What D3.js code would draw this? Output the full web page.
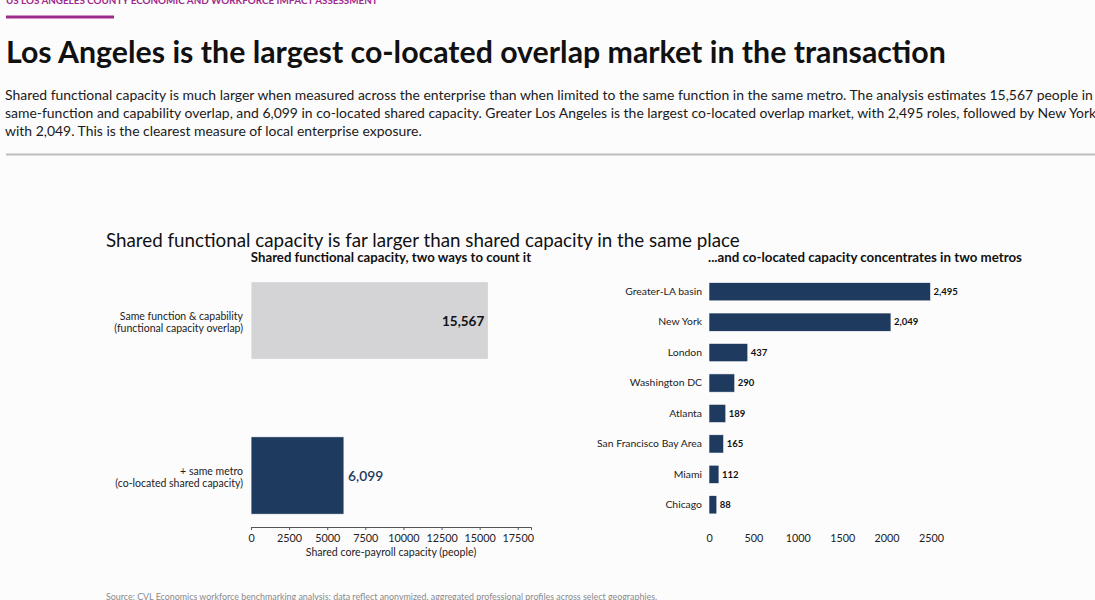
<!DOCTYPE html>
<html>
<head>
<meta charset="utf-8">
<script src="https://cdn.jsdelivr.net/npm/d3@7"></script>
<style>
  body { margin: 0; background: #fdfcfd; font-family: Lato, "Open Sans", sans-serif; }
  svg text { font-family: Lato, "Open Sans", sans-serif; }
</style>
</head>
<body>
<svg id="chart" width="1095" height="600"></svg>
<script>
// header text
const kicker = "US LOS ANGELES COUNTY ECONOMIC AND WORKFORCE IMPACT ASSESSMENT";
const headline = "Los Angeles is the largest co-located overlap market in the transaction";
const deckLines = [
  "Shared functional capacity is much larger when measured across the enterprise than when limited to the same function in the same metro. The analysis estimates 15,567 people in",
  "same-function and capability overlap, and 6,099 in co-located shared capacity. Greater Los Angeles is the largest co-located overlap market, with 2,495 roles, followed by New York",
  "with 2,049. This is the clearest measure of local enterprise exposure."
];
const chartTitle = "Shared functional capacity is far larger than shared capacity in the same place";
const leftTitle = "Shared functional capacity, two ways to count it";
const rightTitle = "...and co-located capacity concentrates in two metros";
const leftAxisLabel = "Shared core-payroll capacity (people)";
const sourceNote = "Source: CVL Economics workforce benchmarking analysis; data reflect anonymized, aggregated professional profiles across select geographies.";

// left panel data
const overlapLabels = [
  ["Same function & capability", "(functional capacity overlap)"],
  ["+ same metro", "(co-located shared capacity)"]
];
const overlapValues = [15567, 6099];
const overlapColors = ["#d4d3d6", "#1e3a5f"];
const leftTicks = [0, 2500, 5000, 7500, 10000, 12500, 15000, 17500];

// right panel data
const metros = ["Greater-LA basin", "New York", "London", "Washington DC", "Atlanta", "San Francisco Bay Area", "Miami", "Chicago"];
const metroValues = [2495, 2049, 437, 290, 189, 165, 112, 88];
const rightTicks = [0, 500, 1000, 1500, 2000, 2500];

const navy = "#1e3a5f";
const magenta = "#9c2a8c";
const fmt = d3.format(",");

const svg = d3.select("#chart");

// header
svg.append("text")
  .attr("x", 6).attr("y", 4)
  .attr("font-size", 9.85).attr("font-weight", 700)
  .attr("fill", magenta)
  .text(kicker);
svg.append("rect")
  .attr("x", 6).attr("y", 15.5).attr("width", 108).attr("height", 3)
  .attr("fill", magenta);
svg.append("text")
  .attr("x", 6).attr("y", 63)
  .attr("font-size", 30.3).attr("font-weight", 700)
  .attr("fill", "#111")
  .text(headline);
svg.append("g").selectAll("text")
  .data(deckLines)
  .join("text")
  .attr("x", 5)
  .attr("y", (d, i) => 100 + i * 18)
  .attr("font-size", 13.95)
  .attr("fill", "#1a1a1a")
  .text(d => d);
svg.append("line")
  .attr("x1", 6).attr("x2", 1095).attr("y1", 154.5).attr("y2", 154.5)
  .attr("stroke", "#bdbdbd").attr("stroke-width", 2);

svg.append("text")
  .attr("x", 106).attr("y", 247)
  .attr("font-size", 18.8).attr("fill", "#111")
  .text(chartTitle);

// ---- left panel ----
const xL = d3.scaleLinear()
  .domain([0, overlapValues[0] * 1.18])
  .range([251, 531]);
const yL = d3.scaleBand()
  .domain(overlapLabels.map((d, i) => i))
  .range([243, 553])
  .paddingInner(0.5)
  .paddingOuter(0.25);

svg.append("text")
  .attr("x", 391).attr("y", 262)
  .attr("text-anchor", "middle")
  .attr("font-size", 13.2).attr("font-weight", 700)
  .attr("fill", "#111")
  .text(leftTitle);

svg.append("g").selectAll("rect")
  .data(overlapValues)
  .join("rect")
  .attr("x", xL(0))
  .attr("y", (d, i) => yL(i))
  .attr("width", d => xL(d) - xL(0))
  .attr("height", yL.bandwidth())
  .attr("fill", (d, i) => overlapColors[i])
  .attr("stroke", "#fff").attr("stroke-width", 0.8);

// category labels
overlapLabels.forEach((lines, i) => {
  const cy = yL(i) + yL.bandwidth() / 2;
  svg.append("text")
    .attr("x", 243).attr("y", cy - 1)
    .attr("text-anchor", "end")
    .attr("font-size", 10.5).attr("fill", "#222")
    .selectAll("tspan")
    .data(lines)
    .join("tspan")
    .attr("x", 243)
    .attr("dy", (d, j) => j === 0 ? 0 : 12)
    .text(d => d);
});

// value labels: inside for big bar, outside for small
svg.append("text")
  .attr("x", xL(overlapValues[0]) - 4)
  .attr("y", yL(0) + yL.bandwidth() / 2 + 5)
  .attr("text-anchor", "end")
  .attr("font-size", 13.5).attr("font-weight", 700)
  .attr("fill", "#111")
  .text(fmt(overlapValues[0]));
svg.append("text")
  .attr("x", xL(overlapValues[1]) + 4)
  .attr("y", yL(1) + yL.bandwidth() / 2 + 5)
  .attr("font-size", 13.8).attr("font-weight", 600)
  .attr("fill", navy)
  .text(fmt(overlapValues[1]));

const axL = svg.append("g")
  .attr("transform", "translate(0,527)")
  .call(d3.axisBottom(xL).tickValues(leftTicks).tickFormat(d3.format("d")).tickSizeOuter(0).tickSize(3));
axL.select(".domain").attr("stroke", "#555");
axL.selectAll(".tick line").attr("stroke", "#555");
axL.selectAll(".tick text")
  .attr("font-size", 10.8).attr("fill", "#222").attr("dy", "0.75em").attr("y", 6.5);

svg.append("text")
  .attr("x", 391).attr("y", 556)
  .attr("text-anchor", "middle")
  .attr("font-size", 10.6).attr("fill", "#222")
  .text(leftAxisLabel);

// ---- right panel ----
const xR = d3.scaleLinear()
  .domain([0, 2500])
  .range([709, 931]);
const yR = d3.scaleBand()
  .domain(metros)
  .range([276.5, 520])
  .paddingInner(0.4)
  .paddingOuter(0.2);

svg.append("text")
  .attr("x", 865).attr("y", 262)
  .attr("text-anchor", "middle")
  .attr("font-size", 13.3).attr("font-weight", 700)
  .attr("fill", "#111")
  .text(rightTitle);

svg.append("g").selectAll("rect")
  .data(metroValues)
  .join("rect")
  .attr("x", xR(0))
  .attr("y", (d, i) => yR(metros[i]))
  .attr("width", d => xR(d) - xR(0))
  .attr("height", yR.bandwidth())
  .attr("fill", navy)
  .attr("stroke", "#fff").attr("stroke-width", 0.6);

svg.append("g").selectAll("text")
  .data(metroValues)
  .join("text")
  .attr("x", d => xR(d) + 3)
  .attr("y", (d, i) => yR(metros[i]) + yR.bandwidth() / 2)
  .attr("dy", "0.35em")
  .attr("font-size", 9.5).attr("font-weight", 700)
  .attr("fill", "#111")
  .text(d => fmt(d));

const axY = svg.append("g")
  .attr("transform", "translate(702,0)")
  .call(d3.axisLeft(yR).tickSize(0).tickPadding(0));
axY.select(".domain").remove();
axY.selectAll(".tick text").attr("font-size", 10.4).attr("fill", "#222");

const axR = svg.append("g")
  .attr("transform", "translate(0,531)")
  .call(d3.axisBottom(xR).tickValues(rightTicks).tickFormat(d3.format("d")).tickSize(0));
axR.select(".domain").remove();
axR.selectAll(".tick text")
  .attr("font-size", 10.8).attr("fill", "#222").attr("dy", "0.75em").attr("y", 3);

// footer
svg.append("text")
  .attr("x", 106).attr("y", 600)
  .attr("font-size", 8.9).attr("fill", "#8a8a8a")
  .text(sourceNote);
</script>
</body>
</html>
